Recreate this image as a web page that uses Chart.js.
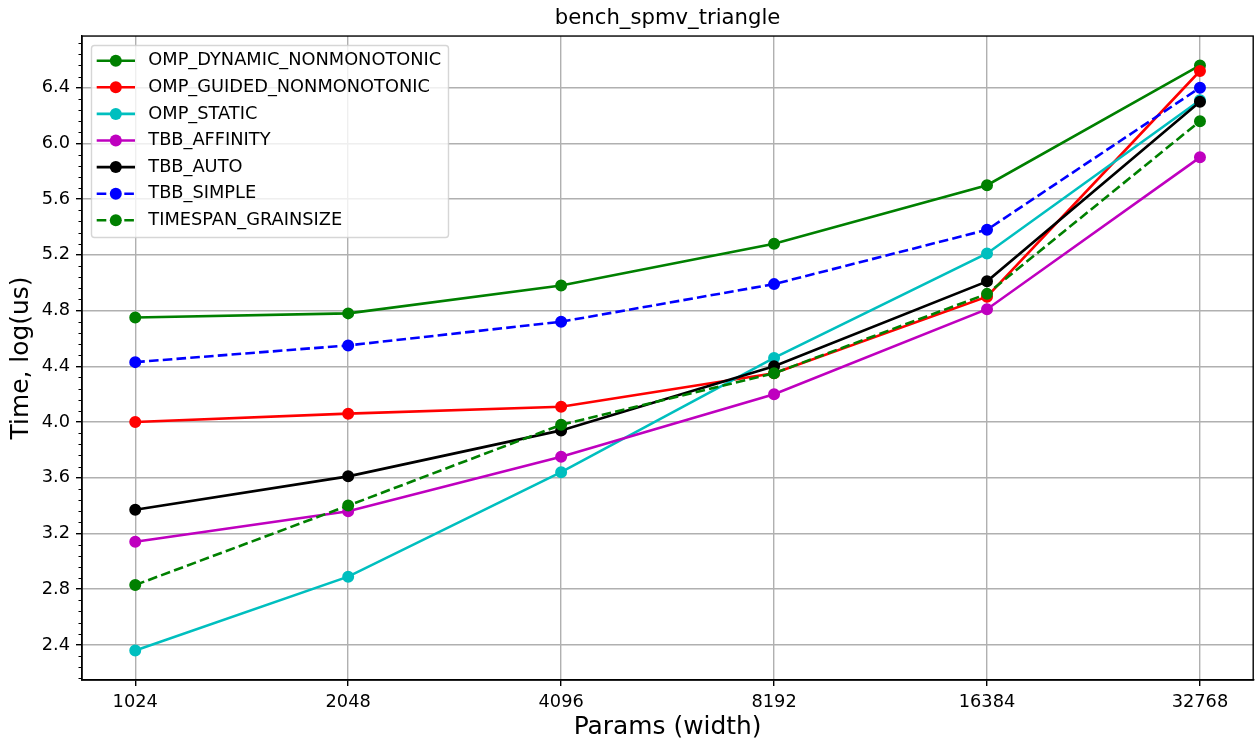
<!DOCTYPE html>
<html>
<head>
<meta charset="utf-8">
<title>bench_spmv_triangle</title>
<script src="https://cdn.jsdelivr.net/npm/chart.js@4.4.0/dist/chart.umd.min.js"></script>
<style>
  html, body { margin: 0; padding: 0; background: #fff; }
</style>
</head>
<body>
<canvas id="myChart" width="1260" height="745"></canvas>
<script>
//# Data (time in log(us) per width)
const categories = ["1024", "2048", "4096", "8192", "16384", "32768"];
const yTicks = [2.4, 2.8, 3.2, 3.6, 4.0, 4.4, 4.8, 5.2, 5.6, 6.0, 6.4];

const ompDynamicNonmonotonic = [4.75, 4.78, 4.98, 5.28, 5.70, 6.56];
const ompGuidedNonmonotonic = [4.00, 4.06, 4.11, 4.35, 4.90, 6.52];
const ompStatic = [2.36, 2.89, 3.64, 4.46, 5.21, 6.31];
const tbbAffinity = [3.14, 3.36, 3.75, 4.20, 4.81, 5.90];
const tbbAuto = [3.37, 3.61, 3.94, 4.40, 5.01, 6.30];
const tbbSimple = [4.43, 4.55, 4.72, 4.99, 5.38, 6.40];
const timespanGrainsize = [2.83, 3.40, 3.98, 4.35, 4.92, 6.16];

const seriesNames = [
  "OMP_DYNAMIC_NONMONOTONIC",
  "OMP_GUIDED_NONMONOTONIC",
  "OMP_STATIC",
  "TBB_AFFINITY",
  "TBB_AUTO",
  "TBB_SIMPLE",
  "TIMESPAN_GRAINSIZE",
];
const seriesValues = [
  ompDynamicNonmonotonic,
  ompGuidedNonmonotonic,
  ompStatic,
  tbbAffinity,
  tbbAuto,
  tbbSimple,
  timespanGrainsize,
];

// styles (matplotlib g, r, c, m, k, b)
const seriesColors = ["#008000", "#ff0000", "#00bfbf", "#bf00bf", "#000000", "#0000ff", "#008000"];
const seriesDashed = [false, false, false, false, false, true, true];
const dashPattern = [9.6, 4.2];
const lineW = 2.6;
const dotR = 5.2;

Chart.defaults.font.family = "'DejaVu Sans', sans-serif";
Chart.defaults.color = "#000";

const datasets = seriesNames.map((name, i) => ({
  label: name,
  data: seriesValues[i].map((v, j) => ({ x: j, y: v })),
  borderColor: seriesColors[i],
  backgroundColor: seriesColors[i],
  pointBackgroundColor: seriesColors[i],
  pointBorderColor: seriesColors[i],
  borderWidth: lineW,
  borderDash: seriesDashed[i] ? dashPattern : [],
  pointRadius: dotR,
  pointHoverRadius: dotR,
  pointBorderWidth: 1.6,
  tension: 0,
  // later series on top, like matplotlib
  order: seriesNames.length - i,
}));

//* spines, minor y ticks and the legend box
const extrasPlugin = {
  id: "extras",
  afterDraw(chart) {
    const { ctx, chartArea: a } = chart;
    const yScale = chart.scales.y;
    ctx.save();

    // frame on all four sides
    ctx.strokeStyle = "#000";
    ctx.lineWidth = 1.4;
    ctx.strokeRect(a.left, a.top, a.right - a.left, a.bottom - a.top);

    // minor ticks every 0.08
    ctx.lineWidth = 1;
    ctx.beginPath();
    const k0 = Math.ceil(yScale.min / 0.08);
    const k1 = Math.floor(yScale.max / 0.08);
    for (let k = k0; k <= k1; k++) {
      if (k % 5 === 0) continue;
      const py = Math.round(yScale.getPixelForValue(k * 0.08)) + 0.5;
      ctx.moveTo(a.left - 3.5, py);
      ctx.lineTo(a.left, py);
    }
    ctx.stroke();

    // legend
    const bx = 91.5, by = 45.5, bw = 357, bh = 192, r = 3;
    ctx.beginPath();
    ctx.moveTo(bx + r, by);
    ctx.arcTo(bx + bw, by, bx + bw, by + bh, r);
    ctx.arcTo(bx + bw, by + bh, bx, by + bh, r);
    ctx.arcTo(bx, by + bh, bx, by, r);
    ctx.arcTo(bx, by, bx + bw, by, r);
    ctx.closePath();
    ctx.fillStyle = "rgba(255,255,255,0.8)";
    ctx.fill();
    ctx.strokeStyle = "rgba(204,204,204,0.8)";
    ctx.lineWidth = 1.4;
    ctx.stroke();

    ctx.font = "17.8px 'DejaVu Sans'";
    ctx.textBaseline = "middle";
    ctx.textAlign = "left";
    seriesNames.forEach((name, i) => {
      const cy = 60.7 + i * 26.6;
      ctx.strokeStyle = seriesColors[i];
      ctx.lineWidth = lineW;
      ctx.setLineDash(seriesDashed[i] ? dashPattern : []);
      ctx.beginPath();
      ctx.moveTo(96.7, cy);
      ctx.lineTo(135, cy);
      ctx.stroke();
      ctx.setLineDash([]);
      ctx.fillStyle = seriesColors[i];
      ctx.beginPath();
      ctx.arc(115.8, cy, dotR + 0.8, 0, Math.PI * 2);
      ctx.fill();
      ctx.fillStyle = "#000";
      ctx.fillText(name, 148.3, cy);
    });

    ctx.restore();
  },
};

const config = {
  type: "line",
  data: { datasets: datasets },
  options: {
    responsive: false,
    animation: false,
    layout: { padding: { left: 0, right: 6, top: 0, bottom: 0 } },
    plugins: {
      legend: { display: false },
      tooltip: { enabled: false },
      title: {
        display: true,
        text: "bench_spmv_triangle",
        fullSize: false,
        color: "#000",
        font: { size: 21.2, weight: "normal", lineHeight: 1.2 },
        padding: { top: 6, bottom: 4.6 },
      },
    },
    scales: {
      x: {
        type: "linear",
        min: -0.25,
        max: 5.25,
        afterBuildTicks: (s) => {
          s.ticks = categories.map((c, i) => ({ value: i }));
        },
        afterFit: (s) => {
          s.height = 65;
        },
        ticks: {
          callback: (v) => categories[v],
          font: { size: 17.8 },
          color: "#000",
          padding: 6,
          maxRotation: 0,
          autoSkip: false,
        },
        grid: {
          color: "#b0b0b0",
          lineWidth: 1.4,
          tickColor: "#000",
          tickLength: 6,
          tickWidth: 1.4,
        },
        border: { display: true, color: "#000", width: 1.4 },
        title: {
          display: true,
          text: "Params (width)",
          color: "#000",
          font: { size: 24.9 },
          padding: { top: 0, bottom: 3 },
        },
      },
      y: {
        type: "linear",
        min: 2.148,
        max: 6.771,
        afterBuildTicks: (s) => {
          s.ticks = yTicks.map((v) => ({ value: v }));
        },
        afterFit: (s) => {
          s.width = 82;
        },
        ticks: {
          callback: (v) => v.toFixed(1),
          font: { size: 17.8 },
          color: "#000",
          padding: 6,
        },
        grid: {
          color: "#b0b0b0",
          lineWidth: 1.4,
          tickColor: "#000",
          tickLength: 6,
          tickWidth: 1.4,
        },
        border: { display: true, color: "#000", width: 1.4 },
        title: {
          display: true,
          text: "Time, log(us)",
          color: "#000",
          font: { size: 24.9 },
          padding: { top: 7, bottom: 0 },
        },
      },
    },
  },
  plugins: [extrasPlugin],
};

const ctx = document.getElementById("myChart").getContext("2d");
const benchChart = new Chart(ctx, config);
</script>
</body>
</html>
